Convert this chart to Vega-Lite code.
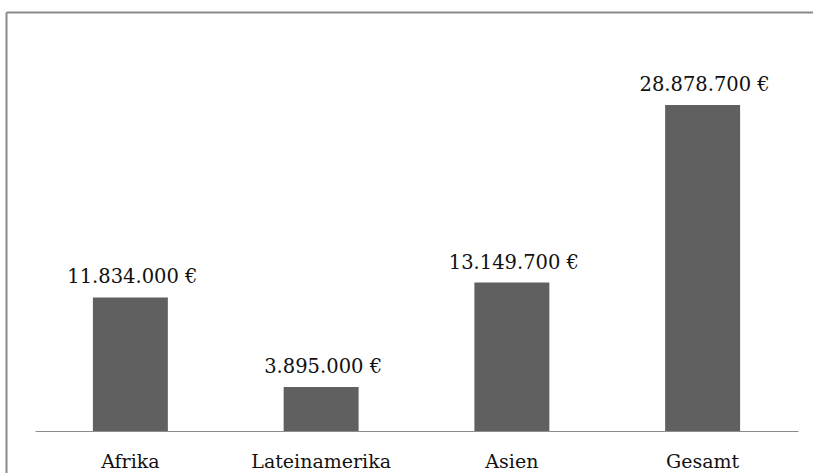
{
  "$schema": "https://vega.github.io/schema/vega-lite/v6.json",
  "autosize": "none",
  "padding": {"left": 6, "top": 12, "right": 0, "bottom": 0},
  "width": 807,
  "height": 461,
  "background": "white",
  "data": {
    "values": [
      {"region": "Afrika", "amount": 11834000},
      {"region": "Lateinamerika", "amount": 3895000},
      {"region": "Asien", "amount": 13149700},
      {"region": "Gesamt", "amount": 28878700}
    ]
  },
  "transform": [
    {"calculate": "replace(format(datum.amount, ','), /,/g, '.') + ' €'", "as": "label"}
  ],
  "encoding": {
    "y": {
      "field": "amount",
      "type": "quantitative",
      "scale": {"domain": [-3720500, 37117000], "nice": false, "zero": true},
      "axis": {
        "title": null,
        "labels": false,
        "ticks": false,
        "grid": false,
        "domainColor": "#8a8a8a",
        "domainWidth": 2
      }
    }
  },
  "layer": [
    {
      "encoding": {
        "x": {
          "field": "region",
          "type": "nominal",
          "sort": null,
          "scale": {"range": [29, 792], "paddingInner": 0.607, "paddingOuter": 0.3035},
          "axis": {
            "title": null,
            "labelAngle": 0,
            "ticks": false,
            "offset": -42,
            "domainColor": "#8c8c8c",
            "domainWidth": 1,
            "labelFont": "DejaVu Serif",
            "labelFontSize": 19,
            "labelColor": "#111111",
            "labelBaseline": "alphabetic",
            "labelPadding": 36
          }
        }
      },
      "layer": [
        {"mark": {"type": "bar", "color": "#606060"}},
        {
          "mark": {"type": "text", "baseline": "alphabetic", "dy": -14, "dx": 2, "font": "DejaVu Serif", "fontSize": 19.5, "color": "#111111"},
          "encoding": {"text": {"field": "label"}}
        }
      ]
    },
    {
      "mark": {"type": "point", "opacity": 0},
      "encoding": {
        "x": {
          "field": "region",
          "type": "nominal",
          "sort": null,
          "axis": {
            "orient": "top",
            "title": null,
            "labels": false,
            "ticks": false,
            "domainColor": "#8a8a8a",
            "domainWidth": 2
          }
        }
      }
    }
  ],
  "resolve": {"scale": {"x": "independent"}, "axis": {"x": "independent"}},
  "config": {
    "view": {"stroke": null}
  }
}
